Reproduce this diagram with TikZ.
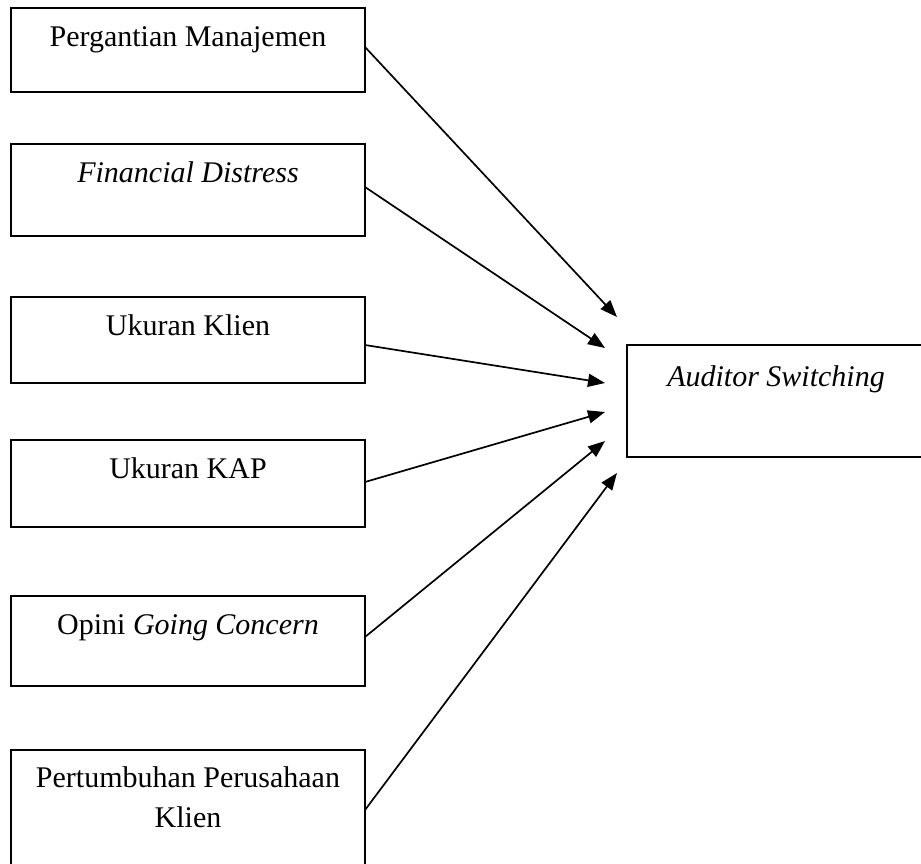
\documentclass[tikz,border=0pt]{standalone}
\usepackage{fontspec}
\setmainfont{Liberation Serif}
\usetikzlibrary{arrows.meta,calc}
\begin{document}
\begin{tikzpicture}[x=1pt,y=-1pt,
  box/.style={draw, line width=1.8pt, rectangle, inner sep=0pt, outer sep=0pt, anchor=north west, minimum width=354pt, minimum height=84pt},
  openbox/.style={line width=1.8pt},
  lbl/.style={font=\fontsize{30}{40}\selectfont, inner sep=0pt, anchor=base, align=center},
  conn/.style={line width=1.7pt, -{Triangle[length=17pt,width=13pt]}}]
\useasboundingbox (0,0) rectangle (921,863);
\clip (0,0) rectangle (921,863);
% left boxes
\node[box] (b1) at (11,8) {};
\node[box, minimum height=92pt] (b2) at (11,144) {};
\node[box, minimum height=86pt] (b3) at (11,297) {};
\node[box, minimum height=87pt] (b4) at (11,440) {};
\node[box, minimum height=90pt] (b5) at (11,596) {};
\node[box, draw=none, minimum height=140pt] (b6) at (11,750) {};
\draw[openbox] (b6.south west) -- (b6.north west) -- (b6.north east) -- (b6.south east);
% right box (runs past the right edge)
\node[box, draw=none, minimum width=400pt, minimum height=112pt] (ax) at (627,345) {};
\draw[openbox] (ax.north east) -- (ax.north west) -- (ax.south west) -- (ax.south east);
% labels
\node[lbl] (l1) at ($(b1.north)+(0,38)$) {Pergantian Manajemen};
\node[lbl] (l2) at ($(b2.north)+(0,38)$) {\textit{Financial Distress}};
\node[lbl] (l3) at ($(b3.north)+(0,38)$) {Ukuran Klien};
\node[lbl] (l4) at ($(b4.north)+(0,38)$) {Ukuran KAP};
\node[lbl] (l5) at ($(b5.north)+(0,38)$) {Opini \textit{Going Concern}};
\node[lbl] (l6) at ($(b6.north)+(0,77)$) {Pertumbuhan Perusahaan\\Klien};
\node[lbl] (lx) at (776,386) {\textit{Auditor Switching}};
% arrow tips
\coordinate (t1) at (617,317);
\coordinate (t2) at (605,348);
\coordinate (t3) at (605,383);
\coordinate (t4) at (605,412);
\coordinate (t5) at (605,441);
\coordinate (t6) at (617,473);
\draw[conn] ($(b1.north east)+(0,39)$) -- (t1);
\draw[conn] ($(b2.north east)+(0,43)$) -- (t2);
\draw[conn] ($(b3.north east)+(0,48)$) -- (t3);
\draw[conn] ($(b4.north east)+(0,42)$) -- (t4);
\draw[conn] ($(b5.north east)+(0,41)$) -- (t5);
\draw[conn] ($(b6.north east)+(0,60)$) -- (t6);
\end{tikzpicture}
\end{document}
